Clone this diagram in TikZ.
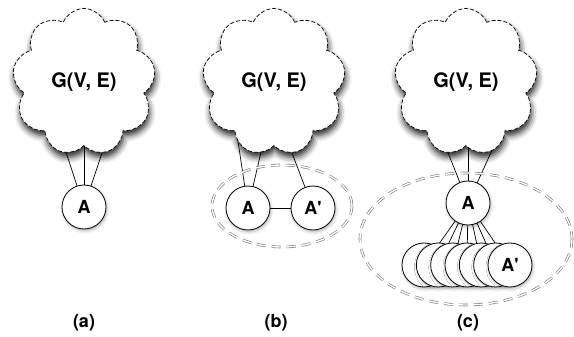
\documentclass[tikz,border=0pt]{standalone}
\usepackage{fontspec}
\setmainfont{TeX Gyre Heros}
\usetikzlibrary{shapes.symbols,shadows.blur,backgrounds}
\begin{document}
\begin{tikzpicture}[x=1pt,y=-1pt,
  cloudbox/.style={cloud, cloud puffs=9, cloud puff arc=135, cloud ignores aspect,
    minimum width=143pt, minimum height=147pt, draw, line width=0.7pt,
    dash pattern=on 4pt off 2pt, fill=white,
    blur shadow={shadow xshift=1pt, shadow yshift=-5pt, shadow blur radius=6pt, shadow opacity=85},
    font=\fontsize{20}{24}\bfseries, inner sep=0pt},
  vertex/.style={circle, draw, fill=white, minimum size=44pt, inner sep=0pt, line width=0.8pt,
    blur shadow={shadow xshift=1pt, shadow yshift=-2pt, shadow blur radius=3pt, shadow opacity=30},
    font=\fontsize{18}{20}\bfseries},
  group/.style={draw=black!55, double=white, double distance=1.4pt, line width=0.6pt, dash pattern=on 9pt off 6pt},
  edge/.style={line width=0.7pt},
  caption/.style={font=\fontsize{18}{20}\bfseries}]
\useasboundingbox (0,0) rectangle (574,337);

% groups
\draw[group] (282,206) ellipse [x radius=70, y radius=41];
\draw[group] (466,239) ellipse [x radius=106, y radius=66];

% clouds
\node[cloudbox] (Ga) at (84,82) {G(V, E)};
\node[cloudbox] (Gb) at (274,82) {G(V, E)};
\node[cloudbox] (Gc) at (466,82) {G(V, E)};

% (a)
\node[vertex] (Aa) at (84,207) {A};
% (b)
\node[vertex] (Ab) at (248,208) {A};
\node[vertex] (Bb) at (313,208) {A\textquotesingle};
% (c)
\node[vertex] (Ac) at (468,203) {A};
\foreach \k in {0,...,5} {
  \node[vertex] (c\k) at (424+14.33*\k,265) {};
}
\node[vertex] (c6) at (510,265) {A\textquotesingle};

% anchor points inside clouds
\coordinate (a1) at (58.7,130);
\coordinate (a2) at (84,130);
\coordinate (a3) at (109.7,130);
\coordinate (b1) at (236.3,130);
\coordinate (b2) at (266.2,130);
\coordinate (b3) at (283.2,130);
\coordinate (k1) at (439,130);
\coordinate (k2) at (468,130);
\coordinate (k3) at (501.2,130);

\begin{scope}[on background layer]
  \draw[edge] (a1) -- (Aa.center);
  \draw[edge] (a2) -- (Aa.center);
  \draw[edge] (a3) -- (Aa.center);
  \draw[edge] (b1) -- (Ab.center);
  \draw[edge] (b2) -- (Ab.center);
  \draw[edge] (b3) -- (Bb.center);
  \draw[edge] (Ab) -- (Bb);
  \draw[edge] (k1) -- (Ac.center);
  \draw[edge] (k2) -- (Ac.center);
  \draw[edge] (k3) -- (Ac.center);
  \foreach \k in {0,...,6} {
    \draw[edge] (Ac.center) -- (c\k.center);
  }
\end{scope}

% captions
\node[caption] (la) at (84,323) {(a)};
\node[caption] (lb) at (276,323) {(b)};
\node[caption] (lc) at (468,323) {(c)};
\end{tikzpicture}
\end{document}
